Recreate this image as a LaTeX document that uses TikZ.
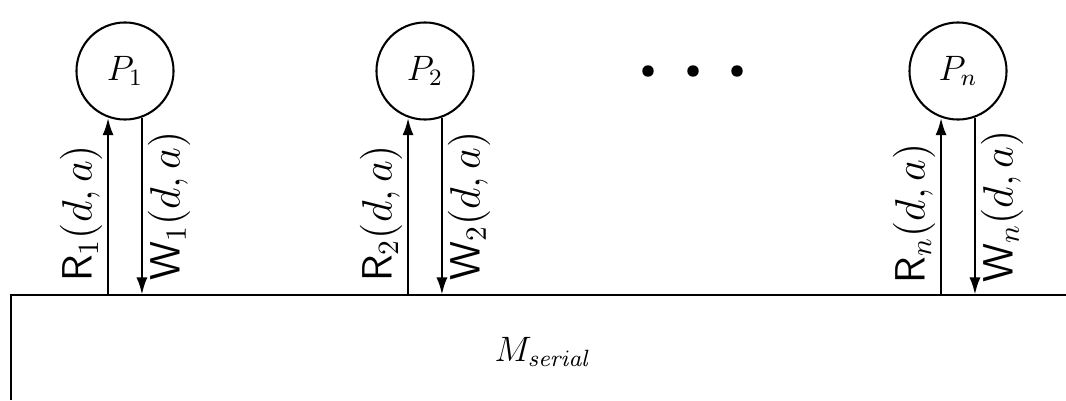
\documentclass[tikz,border=0pt]{standalone}
\usetikzlibrary{arrows.meta}
\begin{document}
\begin{tikzpicture}[x=0.34pt, y=-0.34pt, >={Latex[length=6pt,width=3.8pt]},
  proc/.style={draw, circle, line width=0.7pt, minimum size=33pt, inner sep=0pt, font=\large},
  chan/.style={->, line width=0.95pt},
  lab/.style={rotate=90, font=\fontsize{14}{17}\selectfont, inner sep=1.5pt}]
  \useasboundingbox (0,0) rectangle (1066,400);
  \node[proc] (P1) at (125,71) {$P_1$};
  \node[proc] (P2) at (425,71) {$P_2$};
  \node[proc] (Pn) at (958,71) {$P_n$};
  \foreach \x [count=\i] in {648,693,737}
    \node[circle, fill, inner sep=0pt, minimum size=3.9pt] (dot\i) at (\x,71) {};
  % shared memory
  \coordinate (mtl) at (11,295);
  \draw[line width=0.95pt] (11,400) -- (mtl) -- (1066,295);
  \node[font=\large] (M) at (543,352) {$M_{\mathit{serial}}$};
  % read and write channels
  \foreach \p/\s in {P1/1, P2/2, Pn/n} {
    \draw[chan] (\p.-110 |- mtl) -- (\p.-110) node[lab, above, pos=0.46] {$\mathsf{R}_\s(d,a)$};
    \draw[chan] (\p.-70) -- (\p.-70 |- mtl) node[lab, below, pos=0.5] {$\mathsf{W}_\s(d,a)$};
  }
\end{tikzpicture}
\end{document}
